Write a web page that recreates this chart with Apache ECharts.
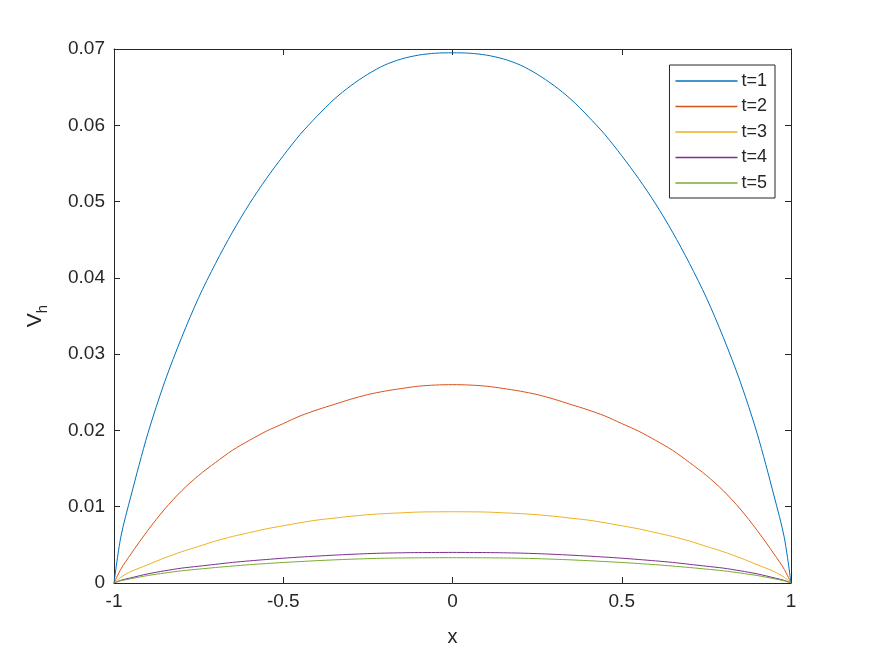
<!DOCTYPE html>
<html>
<head>
<meta charset="utf-8">
<script src="https://cdn.jsdelivr.net/npm/echarts@6/dist/echarts.min.js"></script>
<style>
html,body{margin:0;padding:0;background:#fff;}
#c{width:875px;height:656px;}
</style>
</head>
<body>
<div id="c"></div>
<script>
// x grid (shared by all series)
const xs = [-1,-0.98,-0.95,-0.9,-0.85,-0.8,-0.75,-0.7,-0.65,-0.6,-0.55,-0.5,-0.45,-0.4,-0.35,-0.3,-0.25,-0.2,-0.15,-0.1,-0.05,0,
            0.05,0.1,0.15,0.2,0.25,0.3,0.35,0.4,0.45,0.5,0.55,0.6,0.65,0.7,0.75,0.8,0.85,0.9,0.95,0.98,1];

const t1 = [0,0.0060,0.0114,0.0196,0.0264,0.0322,0.0374,0.0419,0.0460,0.0497,0.0530,0.0560,0.0588,0.0612,0.0634,0.0652,0.0667,0.0679,0.0687,0.0692,0.06945,0.0695,
            0.06945,0.0692,0.0687,0.0679,0.0667,0.0652,0.0634,0.0612,0.0588,0.0560,0.0530,0.0497,0.0460,0.0419,0.0374,0.0322,0.0264,0.0196,0.0114,0.0060,0];
const t2 = [0,0.0018,0.0038,0.0069,0.0097,0.0121,0.0141,0.0158,0.0174,0.0187,0.0199,0.0209,0.0219,0.0227,0.0234,0.0241,0.0247,0.02515,0.0255,0.0258,0.02595,0.0260,
            0.02595,0.0258,0.0255,0.02515,0.0247,0.0241,0.0234,0.0227,0.0219,0.0209,0.0199,0.0187,0.0174,0.0158,0.0141,0.0121,0.0097,0.0069,0.0038,0.0018,0];
const t3 = [0,0.00075,0.0015,0.0024,0.0033,0.0041,0.0048,0.0055,0.0061,0.0066,0.0071,0.0075,0.0079,0.00825,0.0085,0.00875,0.00895,0.0091,0.0092,0.0093,0.00933,0.00934,
            0.00933,0.0093,0.0092,0.0091,0.00895,0.00875,0.0085,0.00825,0.0079,0.0075,0.0071,0.0066,0.0061,0.0055,0.0048,0.0041,0.0033,0.0024,0.0015,0.00075,0];
const t4 = [0,0.00035,0.00068,0.0012,0.0016,0.00195,0.0022,0.00245,0.0027,0.0029,0.00308,0.00325,0.0034,0.00353,0.00365,0.00376,0.00385,0.00392,0.00396,0.00399,0.0040,0.00401,
            0.0040,0.00399,0.00396,0.00392,0.00385,0.00376,0.00365,0.00353,0.0034,0.00325,0.00308,0.0029,0.0027,0.00245,0.0022,0.00195,0.0016,0.0012,0.00068,0.00035,0];
const t5 = [0,0.00029,0.00056,0.00098,0.00131,0.0016,0.00182,0.00203,0.00222,0.0024,0.00255,0.00269,0.00281,0.00293,0.00303,0.00312,0.00319,0.00325,0.00328,0.0033,0.00331,0.00332,
            0.00331,0.0033,0.00328,0.00325,0.00319,0.00312,0.00303,0.00293,0.00281,0.00269,0.00255,0.0024,0.00222,0.00203,0.00182,0.0016,0.00131,0.00098,0.00056,0.00029,0];

const seriesNames = ['t=1','t=2','t=3','t=4','t=5'];
const seriesData = [t1,t2,t3,t4,t5];
const colors = ['#0072BD','#D95319','#EDB120','#7E2F8E','#77AC30'];

const xTicks = [-1,-0.5,0,0.5,1];
const yTicks = [0,0.01,0.02,0.03,0.04,0.05,0.06,0.07];

const axisColor = '#262626';
const fontFam = 'Arial, "Liberation Sans", Helvetica, sans-serif';
const fs = 19;

const chart = echarts.init(document.getElementById('c'), null, {renderer:'canvas'});

function baseAxis(extra){
  return Object.assign({
    axisLine:{show:true, onZero:false, lineStyle:{color:axisColor, width:1}},
    axisTick:{show:true, inside:true, length:6, lineStyle:{color:axisColor, width:1}},
    splitLine:{show:false},
    axisLabel:{color:axisColor, fontSize:fs, fontFamily:fontFam}
  }, extra);
}

const option = {
  animation:false,
  color: colors,
  grid:{left:114, right:84, top:49, bottom:73, containLabel:false},
  xAxis:[
    baseAxis({type:'value', position:'bottom', min:xTicks[0], max:xTicks[xTicks.length-1], interval:0.5,
      name:'x', nameLocation:'middle', nameGap:44,
      nameTextStyle:{color:axisColor, fontSize:fs+1, fontFamily:fontFam},
      axisLabel:{color:axisColor, fontSize:fs, fontFamily:fontFam, margin:9,
        formatter:function(v){ return String(Math.round(v*10)/10); }}}),
    baseAxis({type:'value', position:'top', min:-1, max:1, interval:0.5, axisLabel:{show:false}})
  ],
  yAxis:[
    baseAxis({type:'value', position:'left', min:yTicks[0], max:yTicks[yTicks.length-1], interval:0.01,
      name:'{v|V}{s|h}', nameLocation:'middle', nameGap:64, nameRotate:90,
      nameTextStyle:{color:axisColor, fontFamily:fontFam,
        rich:{v:{fontSize:fs+2, color:axisColor, fontFamily:fontFam},
              s:{fontSize:15, color:axisColor, fontFamily:fontFam, padding:[14,0,0,0]}}},
      axisLabel:{color:axisColor, fontSize:fs, fontFamily:fontFam, margin:9,
        formatter:function(v){ return String(Math.round(v*100)/100); }}}),
    baseAxis({type:'value', position:'right', min:0, max:0.07, interval:0.01, axisLabel:{show:false}})
  ],
  legend:{
    orient:'vertical', right:100, top:65,
    backgroundColor:'#fff', borderColor:axisColor, borderWidth:1,
    padding:[6,8,5,6],
    icon:'rect', itemWidth:62, itemHeight:1.5, itemGap:5.5,
    textStyle:{color:axisColor, fontSize:fs-1, fontFamily:fontFam, lineHeight:20, padding:[0,0,0,-1]},
    data: seriesNames
  },
  series: seriesNames.map(function(n,i){
    return {
      name:n, type:'line', showSymbol:false, symbol:'none', smooth:0.3,
      lineStyle:{width:1, color:colors[i]}, itemStyle:{color:colors[i]},
      data: xs.map(function(x,j){ return [x, seriesData[i][j]]; }),
      z: 2
    };
  })
};
chart.setOption(option);
</script>
</body>
</html>
